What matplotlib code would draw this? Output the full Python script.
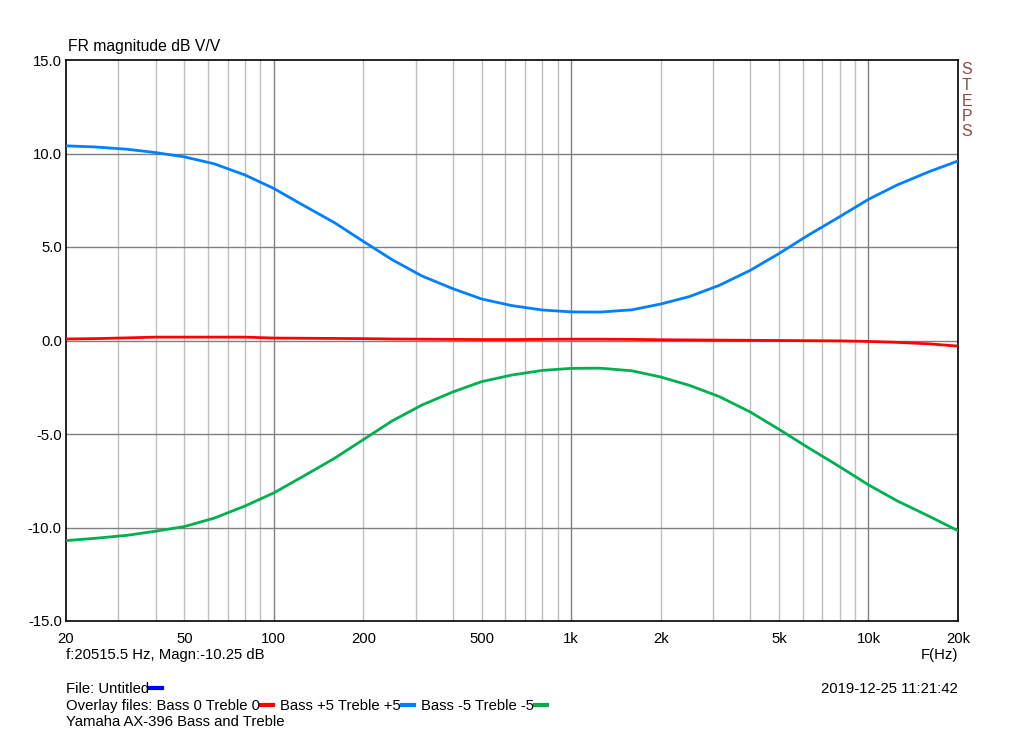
import numpy as np
import matplotlib
matplotlib.use('Agg')
import matplotlib.pyplot as plt
from matplotlib.lines import Line2D

plt.rcParams['font.family'] = ['Liberation Sans', 'DejaVu Sans']

freq = [20, 25, 32, 40, 50, 63, 80, 100, 125, 160, 200, 250, 315, 400, 500, 630, 800, 1000,
        1250, 1600, 2000, 2500, 3150, 4000, 5000, 6300, 8000, 10000, 12500, 16000, 20000]
bass_p5 = [10.41, 10.35, 10.23, 10.05, 9.82, 9.45, 8.85, 8.13, 7.25, 6.3, 5.3, 4.32, 3.45, 2.77,
           2.22, 1.87, 1.63, 1.53, 1.52, 1.64, 1.95, 2.35, 2.95, 3.75, 4.65, 5.65, 6.62, 7.55,
           8.32, 9.03, 9.6]
bass_m5 = [-10.7, -10.58, -10.42, -10.2, -9.95, -9.5, -8.85, -8.15, -7.28, -6.3, -5.3, -4.3,
           -3.45, -2.75, -2.2, -1.85, -1.6, -1.49, -1.48, -1.62, -1.95, -2.4, -3.0, -3.82, -4.75,
           -5.75, -6.75, -7.72, -8.58, -9.4, -10.17]
bass_0 = [0.08, 0.1, 0.14, 0.18, 0.18, 0.18, 0.18, 0.13, 0.12, 0.11, 0.1, 0.08, 0.07, 0.06, 0.05,
          0.05, 0.06, 0.07, 0.07, 0.06, 0.04, 0.03, 0.02, 0.01, 0.0, -0.01, -0.02, -0.05, -0.1,
          -0.18, -0.3]

xticks = [20, 50, 100, 200, 500, 1000, 2000, 5000, 10000, 20000]
xlabels = ['20', '50', '100', '200', '500', '1k', '2k', '5k', '10k', '20k']
yticks = [-15, -10, -5, 0, 5, 10, 15]

fig = plt.figure(figsize=(10.24, 7.35), dpi=100)
ax = fig.add_axes([66/1024, 1-621/735, 892/1024, 561/735])
ax.set_xscale('log')
ax.set_xlim(20, 20000)
ax.set_ylim(-15, 15)

# grid: light minor lines, darker decade / 5 dB lines
minor = [m*10**d for d in range(1, 5) for m in range(2, 10) if 20 < m*10**d < 20000]
for f in minor:
    ax.axvline(f, color='#c0c0c0', lw=1, zorder=0)
for f in [100, 1000, 10000]:
    ax.axvline(f, color='#808080', lw=1, zorder=0)
for v in [-10, -5, 0, 5, 10]:
    ax.axhline(v, color='#808080', lw=1, zorder=0)

ax.plot(freq, bass_0, color='#ff0000', lw=2, zorder=3)
ax.plot(freq, bass_p5, color='#0080ff', lw=2, zorder=3)
ax.plot(freq, bass_m5, color='#00b050', lw=2, zorder=3)

ax.set_xticks(xticks)
ax.set_xticklabels(xlabels)
ax.xaxis.set_minor_locator(matplotlib.ticker.NullLocator())
ax.set_yticks(yticks)
ax.set_yticklabels(['%.1f' % v for v in yticks])
ax.tick_params(length=0, labelsize=10.7)
ax.tick_params(axis='x', pad=8)
ax.tick_params(axis='y', pad=3)
for s in ax.spines.values():
    s.set_color('black'); s.set_linewidth(1.2)

fig.text(68/1024, 1-47/735, 'FR magnitude dB V/V', fontsize=11.3, va='center', ha='left')
for i, ch in enumerate('STEPS'):
    fig.text(967/1024, 1-(70+15.5*i)/735, ch, fontsize=11.5, color='#904848', ha='center', va='center')

fig.text(66/1024, 1-655/735, 'f:20515.5 Hz, Magn:-10.25 dB', fontsize=10.7, va='center')
fig.text(958/1024, 1-655/735, 'F(Hz)', fontsize=10.7, va='center', ha='right')
fig.text(958/1024, 1-689/735, '2019-12-25 11:21:42', fontsize=10.7, va='center', ha='right')

# legend rows built from text pieces with short coloured dashes after them
r = fig.canvas.get_renderer()
def row(y, parts):
    x = 66
    for txt, col, gap in parts:
        t = fig.text(x/1024, 1-y/735, txt, fontsize=10.7, va='center')
        bb = t.get_window_extent(r)
        x = bb.x1 + 1
        if col:
            fig.add_artist(Line2D([x/1024, (x+12)/1024], [1-(y-1)/735]*2, color=col, lw=3))
            x += 12 + gap

row(689, [('File: Untitled', '#0000ff', 0)])
row(706, [('Overlay files: Bass 0 Treble 0', '#ff0000', 7),
          ('Bass +5 Treble +5', '#0080ff', 7),
          ('Bass -5 Treble -5', '#00b050', 0)])
row(722, [('Yamaha AX-396 Bass and Treble', None, 0)])

fig.savefig('out.png', dpi=100)
